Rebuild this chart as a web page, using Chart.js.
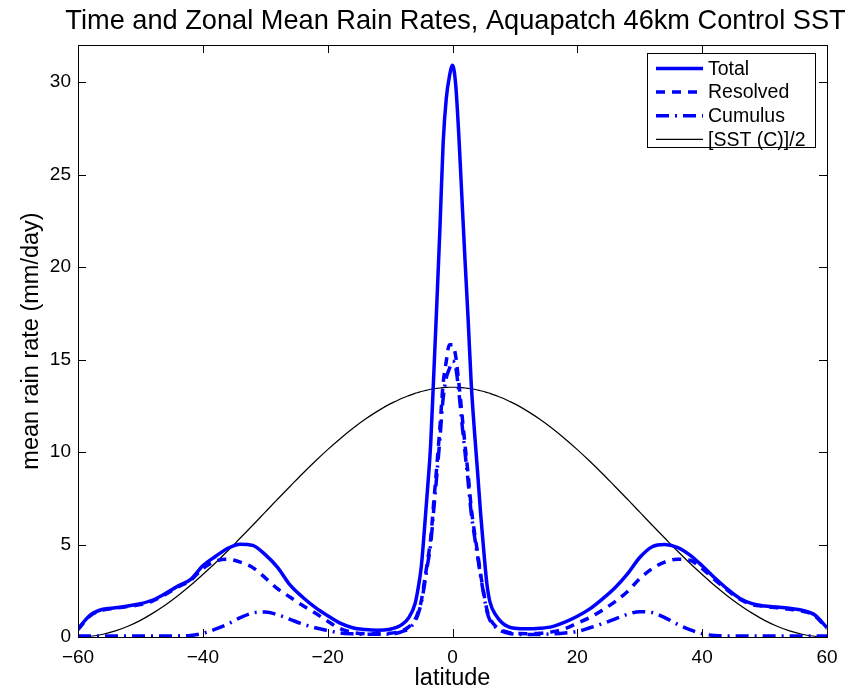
<!DOCTYPE html>
<html>
<head>
<meta charset="utf-8">
<script src="https://cdn.jsdelivr.net/npm/chart.js@4.4.1/dist/chart.umd.min.js"></script>
<style>
html,body{margin:0;padding:0;background:#fff;}
canvas{display:block;}
</style>
</head>
<body>
<canvas id="c" width="859" height="693"></canvas>
<script>
// ---- data ----
const titleText = "Time and Zonal Mean Rain Rates, Aquapatch 46km Control SST";
const xLabel = "latitude";
const yLabel = "mean rain rate (mm/day)";
const seriesNames = ["Total", "Resolved", "Cumulus", "[SST (C)]/2"];
const xTicks = [-60, -40, -20, 0, 20, 40, 60];
const yTicks = [0, 5, 10, 15, 20, 25, 30];

const lats = [-60,-58,-56,-54,-52,-50,-48,-46,-44,-42,-40,-38,-36,-34,-32,-30,-28,-26,-24,-22,-20,-18,-16,-14,-12,-10,
  -9,-8,-7,-6,-5.5,-5,-4.5,-4,-3.5,-3,-2.5,-2,-1.5,-1,-0.5,0,0.5,1,1.5,2,2.5,3,3.5,4,4.5,5,5.5,6,7,8,9,
  10,12,14,16,18,20,22,24,26,28,30,32,34,36,38,40,42,44,46,48,50,52,54,56,58,60];

const total = [0.45,1.2,1.5,1.58,1.68,1.8,2.0,2.35,2.75,3.1,3.85,4.35,4.8,5.02,4.95,4.45,3.75,2.8,2.15,1.6,1.15,0.75,0.5,0.4,0.36,0.42,
  0.52,0.7,1.05,1.8,2.65,3.8,5.8,8.0,10.4,14.2,18.1,22.2,26.7,29.1,30.3,30.9,29.9,27.2,23.8,20.4,17.2,13.7,11.2,9.0,6.7,4.7,2.9,1.9,1.15,0.75,0.55,
  0.47,0.44,0.47,0.56,0.8,1.12,1.52,2.05,2.65,3.4,4.3,4.88,5.0,4.85,4.44,3.85,3.2,2.6,2.1,1.8,1.68,1.62,1.55,1.45,1.2,0.5];

const resolved = [0.4,1.15,1.45,1.55,1.65,1.75,1.95,2.3,2.7,3.05,3.7,4.1,4.2,4.05,3.75,3.2,2.6,2.15,1.7,1.3,0.85,0.45,0.25,0.18,0.17,0.2,
  0.25,0.35,0.55,0.95,1.35,1.95,3.0,4.1,5.3,7.3,9.3,11.4,13.7,14.9,15.8,15.8,15.2,13.8,12.1,10.4,8.8,7.0,5.7,4.6,3.4,2.4,1.5,1.0,0.55,0.35,0.25,
  0.2,0.18,0.2,0.28,0.45,0.75,1.05,1.45,1.9,2.45,3.15,3.7,4.05,4.2,4.15,3.7,3.1,2.55,2.05,1.75,1.65,1.58,1.5,1.4,1.15,0.45];

const cumulus = [0.05,0.05,0.05,0.05,0.05,0.05,0.05,0.05,0.06,0.08,0.2,0.42,0.7,1.05,1.3,1.35,1.2,0.95,0.7,0.5,0.35,0.22,0.17,0.15,0.15,0.16,
  0.2,0.3,0.45,0.85,1.25,1.85,2.8,3.9,5.0,6.9,8.8,10.8,12.9,14.0,14.5,14.9,14.6,13.3,11.6,10.0,8.4,6.7,5.5,4.4,3.3,2.3,1.4,0.9,0.5,0.3,0.2,
  0.15,0.13,0.14,0.17,0.22,0.3,0.5,0.72,0.97,1.22,1.37,1.32,1.05,0.7,0.4,0.18,0.08,0.06,0.06,0.06,0.06,0.06,0.06,0.06,0.06,0.06];

const sstHalf = [0,0.04,0.15,0.33,0.58,0.9,1.29,1.73,2.23,2.78,3.38,4.0,4.66,5.35,6.04,6.75,7.46,8.15,8.84,9.5,10.13,10.72,11.27,11.77,12.21,12.6,
  12.76,12.92,13.05,13.17,13.22,13.27,13.31,13.35,13.39,13.42,13.44,13.46,13.48,13.49,13.5,13.5,13.5,13.49,13.48,13.46,13.44,13.42,13.39,13.35,13.31,13.27,13.22,13.17,13.05,12.92,12.76,
  12.6,12.21,11.77,11.27,10.72,10.13,9.5,8.84,8.15,7.46,6.75,6.04,5.35,4.66,4.0,3.38,2.78,2.23,1.73,1.29,0.9,0.58,0.33,0.15,0.04,0];

// ---- chart ----
const FONT = "'Liberation Sans', Arial, Helvetica, sans-serif";
const pts = arr => lats.map((x, i) => ({x: x, y: arr[i]}));
const BLUE = '#0000ff';

const styles = [
  {data: total, color: BLUE, width: 3.5, dash: []},
  {data: resolved, color: BLUE, width: 3.5, dash: [9, 7]},
  {data: cumulus, color: BLUE, width: 3.5, dash: [13, 6, 2, 6]},
  {data: sstHalf, color: '#000000', width: 1.2, dash: []}
];

const datasets = styles.map((s, i) => ({
  label: seriesNames[i],
  data: pts(s.data),
  borderColor: s.color,
  borderWidth: s.width,
  borderDash: s.dash,
  borderCapStyle: 'butt',
  borderJoinStyle: 'round',
  showLine: true,
  pointRadius: 0,
  fill: false,
  cubicInterpolationMode: 'monotone'
}));

const framePlugin = {
  id: 'frame',
  afterDatasetsDraw(chart) {
    const ctx = chart.ctx;
    const a = chart.chartArea;
    const xs = chart.scales.x, ys = chart.scales.y;
    ctx.save();
    ctx.strokeStyle = '#000';
    ctx.lineWidth = 1;
    ctx.setLineDash([]);
    ctx.strokeRect(Math.round(a.left) + 0.5, Math.round(a.top) + 0.5,
      Math.round(a.right - a.left), Math.round(a.bottom - a.top));
    const tl = 8;
    ctx.beginPath();
    xTicks.forEach(v => {
      const px = Math.round(xs.getPixelForValue(v)) + 0.5;
      ctx.moveTo(px, a.bottom); ctx.lineTo(px, a.bottom - tl);
      ctx.moveTo(px, a.top); ctx.lineTo(px, a.top + tl);
    });
    yTicks.forEach(v => {
      const py = Math.round(ys.getPixelForValue(v)) + 0.5;
      ctx.moveTo(a.left, py); ctx.lineTo(a.left + tl, py);
      ctx.moveTo(a.right, py); ctx.lineTo(a.right - tl, py);
    });
    ctx.stroke();

    // title
    ctx.fillStyle = '#000';
    ctx.font = "27.2px " + FONT;
    ctx.textAlign = 'center';
    ctx.textBaseline = 'alphabetic';
    ctx.fillText(titleText, (a.left + a.right) / 2 + 3, 29);

    // legend
    const bx = 647.5, by = 53.5, bw = 168, bh = 94;
    ctx.fillStyle = '#fff';
    ctx.fillRect(bx, by, bw, bh);
    ctx.strokeStyle = '#000';
    ctx.lineWidth = 1;
    ctx.strokeRect(bx, by, bw, bh);
    ctx.font = "19.5px " + FONT;
    ctx.textAlign = 'left';
    ctx.textBaseline = 'middle';
    styles.forEach((s, i) => {
      const y = 68.5 + i * 23.6;
      ctx.beginPath();
      ctx.strokeStyle = s.color;
      ctx.lineWidth = s.width;
      ctx.lineCap = 'butt';
      ctx.setLineDash(s.dash);
      ctx.moveTo(656, y); ctx.lineTo(703, y);
      ctx.stroke();
      ctx.setLineDash([]);
      ctx.fillStyle = '#000';
      ctx.fillText(seriesNames[i], 708, y + 1);
    });
    ctx.restore();
  }
};

new Chart(document.getElementById('c'), {
  type: 'scatter',
  data: {datasets: datasets},
  options: {
    responsive: false,
    animation: false,
    devicePixelRatio: 1,
    layout: {padding: {top: 45, right: 32, left: 0, bottom: 0}},
    plugins: {legend: {display: false}, title: {display: false}, tooltip: {enabled: false}},
    scales: {
      x: {
        type: 'linear', min: -60, max: 60,
        afterBuildTicks: s => { s.ticks = xTicks.map(v => ({value: v})); },
        afterFit: s => { s.height = 56; },
        grid: {display: false, drawTicks: false},
        border: {display: false},
        ticks: {
          color: '#000', padding: 9, maxRotation: 0, autoSkip: false,
          font: {family: FONT, size: 19},
          callback: v => String(v).replace('-', '\u2212')
        },
        title: {display: true, text: xLabel, color: '#000', font: {family: FONT, size: 23.5}, padding: {top: 0, bottom: 0}}
      },
      y: {
        type: 'linear', min: 0, max: 32,
        afterBuildTicks: s => { s.ticks = yTicks.map(v => ({value: v})); },
        afterFit: s => { s.width = 78; },
        grid: {display: false, drawTicks: false},
        border: {display: false},
        ticks: {color: '#000', padding: 7, autoSkip: false, font: {family: FONT, size: 19}},
        title: {display: true, text: yLabel, color: '#000', font: {family: FONT, size: 23.5}, padding: {top: 17, bottom: 0}}
      }
    }
  },
  plugins: [framePlugin]
});
</script>
</body>
</html>
